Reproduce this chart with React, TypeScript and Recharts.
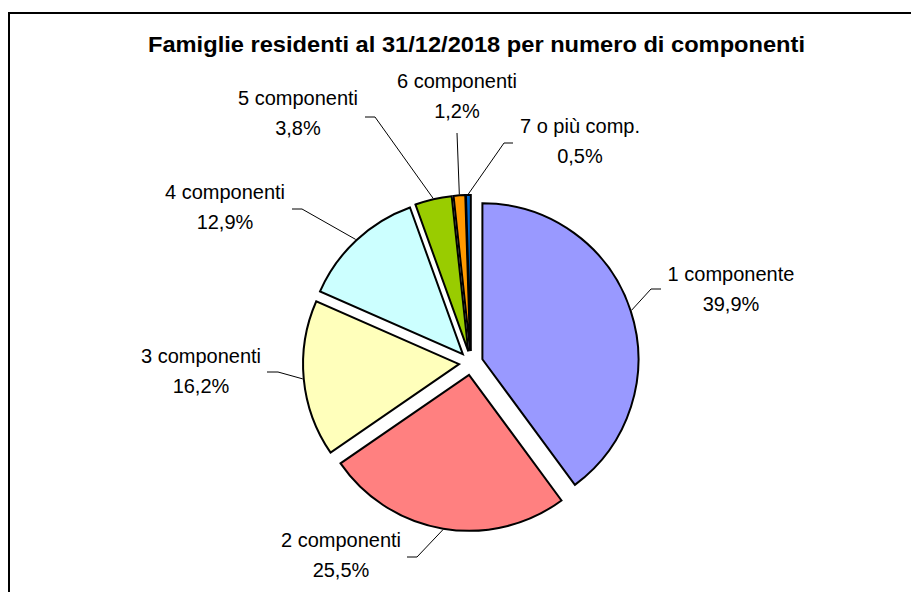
import { Pie, PieChart, Sector, Cell } from "recharts";

const CATEGORIES = [
  "1 componente",
  "2 componenti",
  "3 componenti",
  "4 componenti",
  "5 componenti",
  "6 componenti",
  "7 o più comp.",
];
const SHARES = [39.9, 25.5, 16.2, 12.9, 3.8, 1.2, 0.5];
const COLORS = ["#9999FF", "#FF8080", "#FFFFBB", "#CCFFFF", "#99CC00", "#FF9900", "#0066CC"];

// label block (centre x, first baseline) relative to pie centre, as Excel placed them
const LABEL_POS: [number, number][] = [
  [260, -82],
  [-130, 184],
  [-270, 0],
  [-246, -164],
  [-173, -258],
  [-14, -275],
  [109, -230],
];
// leader line: elbow and label-side end, relative to pie centre
const LEADER_ELBOW: [number, number][] = [
  [180, -74],
  [-54, 194],
  [-193, 9],
  [-169, -154],
  [-96, -246],
  [-14, -230],
  [33, -220],
];
const LEADER_END: [number, number][] = [
  [190, -74],
  [-64, 194],
  [-204, 9],
  [-179, -154],
  [-106, -246],
  [-14, -230],
  [42, -220],
];

const W = 911;
const H = 592;
const CX = 471;
const CY = 363;
const RADIUS = 156;
const EXPLODE = 12;
const RAD = Math.PI / 180;
const FONT = "'Liberation Sans', Arial, sans-serif";

const data = CATEGORIES.map((name, i) => ({ name, value: SHARES[i] }));

function ExplodedSlice(props: any) {
  const { cx, cy, midAngle } = props;
  const ox = EXPLODE * Math.cos(-midAngle * RAD);
  const oy = EXPLODE * Math.sin(-midAngle * RAD);
  return <Sector {...props} cx={cx + ox} cy={cy + oy} stroke="#000" strokeWidth={2} />;
}

function SliceLabel(props: any) {
  const { cx, cy, midAngle, outerRadius, index, name, value } = props;
  const r = EXPLODE + outerRadius + 1;
  const sx = cx + r * Math.cos(-midAngle * RAD);
  const sy = cy + r * Math.sin(-midAngle * RAD);
  const [ex, ey] = LEADER_ELBOW[index];
  const [lx, ly] = LEADER_END[index];
  const [tx, ty] = LABEL_POS[index];
  return (
    <g>
      <polyline
        points={`${sx},${sy} ${cx + ex},${cy + ey} ${cx + lx},${cy + ly}`}
        fill="none"
        stroke="#000"
        strokeWidth={1}
      />
      <text
        x={cx + tx}
        y={cy + ty}
        textAnchor="middle"
        fontFamily={FONT}
        fontSize={20}
        fill="#000"
      >
        <tspan x={cx + tx}>{name}</tspan>
        <tspan x={cx + tx} dy={30}>
          {value.toFixed(1).replace(".", ",")}%
        </tspan>
      </text>
    </g>
  );
}

export default function App() {
  return (
    <div
      style={{
        position: "absolute",
        left: 0,
        top: 0,
        width: W,
        height: H,
        overflow: "hidden",
        background: "#fff",
      }}
    >
      <svg width={W} height={H} style={{ position: "absolute", left: 0, top: 0 }}>
        <rect x={9} y={13} width={1000} height={1000} fill="#fff" stroke="#000" strokeWidth={2} />
        <text
          x={476.5}
          y={52}
          textAnchor="middle"
          fontFamily={FONT}
          fontWeight="bold"
          fontSize={22}
          textLength={657}
          lengthAdjust="spacingAndGlyphs"
          fill="#000"
        >
          Famiglie residenti al 31/12/2018 per numero di componenti
        </text>
      </svg>
      <div style={{ position: "absolute", left: 0, top: 0 }}>
        <PieChart width={W} height={H} margin={{ top: 0, right: 0, bottom: 0, left: 0 }}>
          <Pie
            data={data}
            dataKey="value"
            nameKey="name"
            cx={CX}
            cy={CY}
            outerRadius={RADIUS}
            startAngle={90}
            endAngle={-270}
            shape={ExplodedSlice}
            activeShape={ExplodedSlice}
            inactiveShape={ExplodedSlice}
            label={SliceLabel}
            labelLine={false}
            isAnimationActive={false}
          >
            {data.map((d, i) => (
              <Cell key={d.name} fill={COLORS[i]} stroke="#000" />
            ))}
          </Pie>
        </PieChart>
      </div>
    </div>
  );
}
